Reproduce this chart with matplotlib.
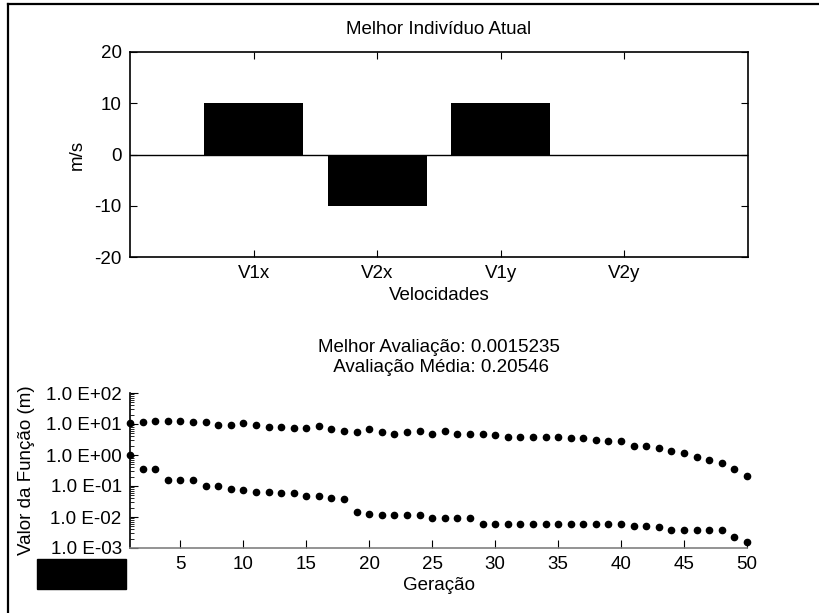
import math
import matplotlib
matplotlib.use("Agg")
import matplotlib.pyplot as plt
from matplotlib.lines import Line2D
from matplotlib.patches import Rectangle
from matplotlib.ticker import FixedLocator, NullFormatter, FuncFormatter

plt.rcParams['font.family'] = ['Liberation Sans', 'DejaVu Sans']
plt.rcParams['axes.unicode_minus'] = False

# melhor individuo (velocidades)
velocidades = ['V1x', 'V2x', 'V1y', 'V2y']
valores_vel = [10, -10, 10, 0]

# evolucao ao longo das geracoes
geracoes = list(range(1, 51))
media = [10.4, 11.5, 12.9, 12.9, 12.9, 11.5, 11.5, 9.5, 9.5, 10.5,
         9.5, 8.1, 8.1, 7.2, 7.2, 8.7, 6.8, 5.9, 5.4, 6.8,
         5.4, 4.8, 5.4, 5.9, 4.8, 5.9, 4.8, 4.8, 4.8, 4.3,
         3.8, 3.8, 3.8, 3.8, 3.8, 3.5, 3.5, 3.1, 2.75, 2.75,
         2.0, 2.0, 1.66, 1.32, 1.2, 0.87, 0.69, 0.56, 0.36, 0.20546]
melhor = [1.0, 0.35, 0.35, 0.155, 0.155, 0.155, 0.10, 0.10, 0.081, 0.072,
          0.066, 0.066, 0.058, 0.058, 0.048, 0.048, 0.042, 0.038, 0.014, 0.0129,
          0.0115, 0.0115, 0.0115, 0.0115, 0.0093, 0.0093, 0.0093, 0.0093, 0.0059, 0.0059,
          0.0059, 0.0059, 0.0059, 0.0059, 0.0059, 0.0059, 0.0059, 0.0059, 0.0059, 0.0059,
          0.0052, 0.0052, 0.0048, 0.0038, 0.0038, 0.0038, 0.0038, 0.0038, 0.0022, 0.0015235]
ytick_vals = [1e-3, 1e-2, 1e-1, 1e0, 1e1, 1e2]

FS = 13.5
W, H = 819, 613
fig = plt.figure(figsize=(W / 100, H / 100), dpi=100)


def fx(px):
    return px / W


def fy(py):
    return 1 - py / H


# ---- grafico de barras ----
ax1 = fig.add_axes([fx(130), fy(257), fx(748 - 130), (257 - 52) / H])
pos = list(range(1, len(velocidades) + 1))
ax1.bar(pos, valores_vel, width=0.8, color='black')
ax1.axhline(0, color='black', lw=1)
ax1.set_xlim(0, 5)
ax1.set_ylim(-20, 20)
ax1.set_xticks(pos)
ax1.set_xticklabels(velocidades)
ax1.set_yticks([-20, -10, 0, 10, 20])
ax1.tick_params(direction='in', length=5, width=0.8, top=True, right=True,
                labelsize=FS, pad=6)
for s in ax1.spines.values():
    s.set_linewidth(1.2)
ax1.set_xlabel('Velocidades', fontsize=FS, labelpad=3)
fig.text(fx(77), fy(155), 'm/s', rotation=90, fontsize=FS, ha='center', va='center')
fig.text(fx(439), fy(30), 'Melhor Indivíduo Atual', fontsize=FS, ha='center', va='center')

# ---- evolucao ----
ax2 = fig.add_axes([fx(130), fy(548), fx(747 - 130), (548 - 393) / H])
ax2.plot(geracoes, media, 'o', color='black', ms=4.5, clip_on=False)
ax2.plot(geracoes, melhor, 'o', color='black', ms=4.5, clip_on=False)
ax2.set_yscale('log')
ax2.set_xlim(1, 50)
ax2.set_ylim(1e-3, 1e2)
ax2.set_xticks(range(5, 51, 5))
ax2.yaxis.set_major_locator(FixedLocator(ytick_vals))
ax2.yaxis.set_major_formatter(FuncFormatter(lambda v, p: '1.0 E%+03d' % round(math.log10(v))))
minor = [m * d for d in ytick_vals[:-1] for m in range(2, 10)]
ax2.yaxis.set_minor_locator(FixedLocator(minor))
ax2.yaxis.set_minor_formatter(NullFormatter())
ax2.spines['top'].set_visible(False)
ax2.spines['right'].set_visible(False)
ax2.spines['left'].set_linewidth(1.2)
ax2.spines['bottom'].set_color('#808080')
ax2.spines['bottom'].set_linewidth(1.2)
ax2.tick_params(which='major', direction='in', length=6, width=0.8, labelsize=FS, pad=6)
ax2.tick_params(which='minor', direction='in', length=3, width=0.6)
ax2.set_xlabel('Geração', fontsize=FS, labelpad=3)
fig.text(fx(27), fy(470), 'Valor da Função (m)', rotation=90, fontsize=FS,
         ha='center', va='center')
fig.text(fx(439), fy(347), 'Melhor Avaliação: 0.0015235', fontsize=FS, ha='center', va='center')
fig.text(fx(439), fy(367), ' Avaliação Média: 0.20546', fontsize=FS, ha='center', va='center')

# moldura e tarja
fig.add_artist(Line2D([fx(8), 1], [fy(4), fy(4)], color='black', lw=1.6))
fig.add_artist(Line2D([fx(8), fx(8)], [fy(4), 0], color='black', lw=1.6))
fig.add_artist(Rectangle((fx(37), fy(589)), fx(89), 30 / H, color='black'))

fig.savefig('out.png', dpi=100)
